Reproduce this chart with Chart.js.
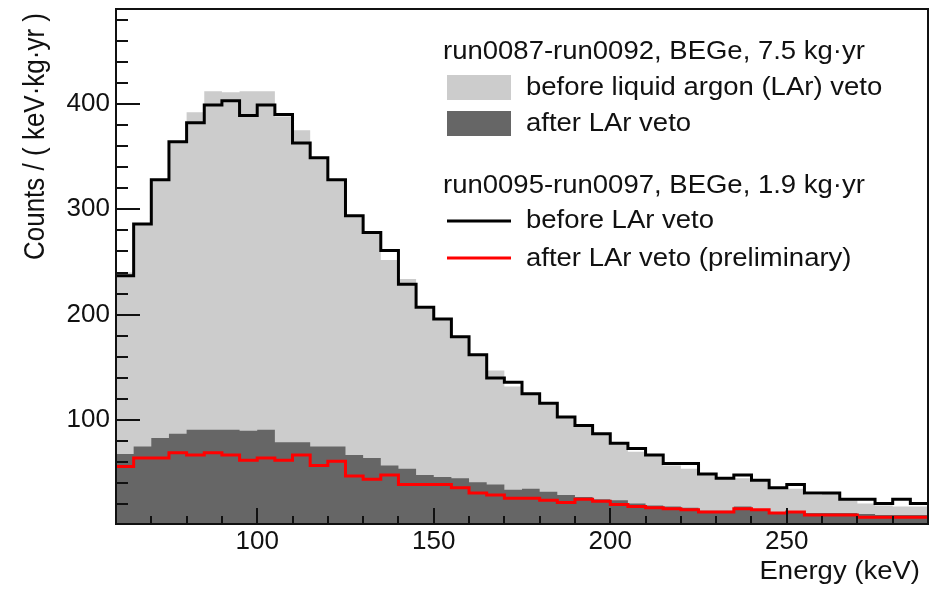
<!DOCTYPE html>
<html><head><meta charset="utf-8">
<script src="https://cdn.jsdelivr.net/npm/chart.js@4.4.1/dist/chart.umd.min.js"></script>
<style>html,body{margin:0;padding:0;background:#fff;}canvas{display:block;}</style>
</head><body>
<canvas id="c" width="936" height="590"></canvas>
<script>
// ---- data (5 keV bins, 60-290 keV) ----
const binEdges = [60,65,70,75,80,85,90,95,100,105,110,115,120,125,130,135,140,145,150,155,160,165,170,175,180,185,190,195,200,205,210,215,220,225,230,235,240,245,250,255,260,265,270,275,280,285,290];
// run0087-run0092, before LAr veto (light grey)
const beforeVetoRun87 = [240,285,327,363,392,412,411,412,412,388,375,348,327,293,277,252,234,206,195,178,161,147,132,124,115,103,94,86,78,70,66,57,54,49,45,45,42,35,35,29,30,24,21,19,18,18];
// run0087-run0092, after LAr veto (dark grey)
const afterVetoRun87 = [68,75,83,87,91,91,91,90,91,79,79,75,75,67,64,57,54,48,46,45,41,39,34,35,32,29,27,25,24,21,19,18,17,14,14,18,15,12,12,12,12,12,11,10,10,10];
// run0095-run0097, before LAr veto (black line)
const beforeVetoRun95 = [237,286,328,364,382,399,403,389,399,390,363,349,328,294,278,261,229,207,196,179,162,140,136,125,116,103,95,87,78,73,67,59,59,49,45,48,43,36,39,31,31,25,25,21,25,21];
// run0095-run0097, after LAr veto (red line)
const afterVetoRun95 = [56,64,64,69,67,69,67,62,64,62,67,57,61,47,44,48,39,39,39,36,31,29,26,26,24,22,25,23,20,18,17,16,15,13,13,16,15,12,13,10,10,10,8,8,8,8];
const xTickLabels = [100,150,200,250];
const yTickLabels = [100,200,300,400];
const legendHeader1 = 'run0087-run0092, BEGe, 7.5 kg\u00B7yr';
const legendLabel1 = 'before liquid argon (LAr) veto';
const legendLabel2 = 'after LAr veto';
const legendHeader2 = 'run0095-run0097, BEGe, 1.9 kg\u00B7yr';
const legendLabel3 = 'before LAr veto';
const legendLabel4 = 'after LAr veto (preliminary)';
const xTitle = 'Energy (keV)';
const yTitle = 'Counts / ( keV\u00B7kg\u00B7yr )';

const FONT = "'Liberation Sans', Arial, Helvetica, sans-serif";
const LIGHT = '#cccccc', DARK = '#666666';

function histPoints(values){
  const pts = values.map((v,i)=>({x:binEdges[i], y:v}));
  pts.push({x:binEdges[binEdges.length-1], y:values[values.length-1]});
  return pts;
}

function stretchText(ctx, text, x, y, sx, align){
  ctx.save();
  ctx.translate(x, y);
  ctx.scale(sx, 1);
  ctx.textAlign = align || 'left';
  ctx.fillText(text, 0, 0);
  ctx.restore();
}

const framePlugin = {
  id: 'frameAndLegend',
  afterDraw(chart){
    const {ctx, chartArea:{left,right,top,bottom}, scales:{x,y}} = chart;
    ctx.save();
    ctx.strokeStyle = '#111';
    ctx.lineWidth = 2;
    ctx.beginPath();
    // y ticks (inward)
    for (let v = 20; v <= 480; v += 20){
      const py = Math.round(y.getPixelForValue(v));
      const len = (v % 100 === 0) ? 24 : 12;
      ctx.moveTo(left, py); ctx.lineTo(left + len, py);
    }
    // x ticks (inward)
    for (let v = 70; v < 290; v += 10){
      const px = Math.round(x.getPixelForValue(v));
      const len = (v % 50 === 0) ? 16 : 8;
      ctx.moveTo(px, bottom); ctx.lineTo(px, bottom - len);
    }
    ctx.stroke();
    ctx.strokeRect(left, top, right - left, bottom - top);

    // legend
    ctx.fillStyle = '#111';
    ctx.font = '25px ' + FONT;
    ctx.textBaseline = 'alphabetic';
    const sx = 1.1;
    stretchText(ctx, legendHeader1, 443, 59, sx);
    ctx.fillStyle = LIGHT; ctx.fillRect(447, 75, 64, 25);
    ctx.fillStyle = DARK; ctx.fillRect(447, 111, 64, 25);
    ctx.fillStyle = '#111';
    stretchText(ctx, legendLabel1, 526, 95, sx);
    stretchText(ctx, legendLabel2, 526, 131, sx);
    stretchText(ctx, legendHeader2, 443, 193, sx);
    ctx.lineWidth = 3;
    ctx.strokeStyle = '#000';
    ctx.beginPath(); ctx.moveTo(447, 221); ctx.lineTo(511, 221); ctx.stroke();
    ctx.strokeStyle = '#ff0000';
    ctx.beginPath(); ctx.moveTo(447, 258); ctx.lineTo(511, 258); ctx.stroke();
    stretchText(ctx, legendLabel3, 526, 228, sx);
    stretchText(ctx, legendLabel4, 526, 266, sx);

    // axis titles
    stretchText(ctx, xTitle, 920, 579, sx, 'right');
    ctx.save();
    ctx.font = '26px ' + FONT;
    ctx.translate(44, 13);
    ctx.rotate(-Math.PI/2);
    ctx.scale(1, 1.12);
    ctx.textAlign = 'right';
    ctx.fillText(yTitle, 0, 0);
    ctx.restore();
    ctx.restore();
  }
};

new Chart(document.getElementById('c'), {
  type: 'line',
  data: {
    datasets: [
      {label: legendLabel1, data: histPoints(beforeVetoRun87), stepped: 'before', fill: 'start',
       backgroundColor: LIGHT, borderColor: 'rgba(0,0,0,0)', borderWidth: 0, order: 4},
      {label: legendLabel2, data: histPoints(afterVetoRun87), stepped: 'before', fill: 'start',
       backgroundColor: DARK, borderColor: 'rgba(0,0,0,0)', borderWidth: 0, order: 3},
      {label: legendLabel3, data: histPoints(beforeVetoRun95), stepped: 'before', fill: false,
       borderColor: '#000000', borderWidth: 3, order: 2},
      {label: legendLabel4, data: histPoints(afterVetoRun95), stepped: 'before', fill: false,
       borderColor: '#ff0000', borderWidth: 3, order: 1}
    ]
  },
  options: {
    responsive: false, animation: false, devicePixelRatio: 1,
    layout: {padding: {left: 0, right: 8, top: 9, bottom: 0}},
    elements: {point: {radius: 0}, line: {tension: 0}},
    plugins: {legend: {display: false}, tooltip: {enabled: false}},
    scales: {
      x: {type: 'linear', min: 60, max: 290,
          grid: {display: false, drawTicks: false}, border: {display: false},
          afterBuildTicks: s => { s.ticks = xTickLabels.map(v => ({value: v})); },
          afterFit: s => { s.height = 66; s.paddingLeft = 0; s.paddingRight = 0; },
          ticks: {font: {family: FONT, size: 26}, color: '#111', padding: 2, maxRotation: 0, autoSkip: false}},
      y: {type: 'linear', min: 1.5, max: 490,
          grid: {display: false, drawTicks: false}, border: {display: false},
          afterBuildTicks: s => { s.ticks = yTickLabels.map(v => ({value: v})); },
          afterFit: s => { s.width = 116; s.paddingTop = 0; s.paddingBottom = 0; },
          ticks: {font: {family: FONT, size: 26}, color: '#111', padding: 6, autoSkip: false}}
    }
  },
  plugins: [framePlugin]
});
</script>
</body></html>
